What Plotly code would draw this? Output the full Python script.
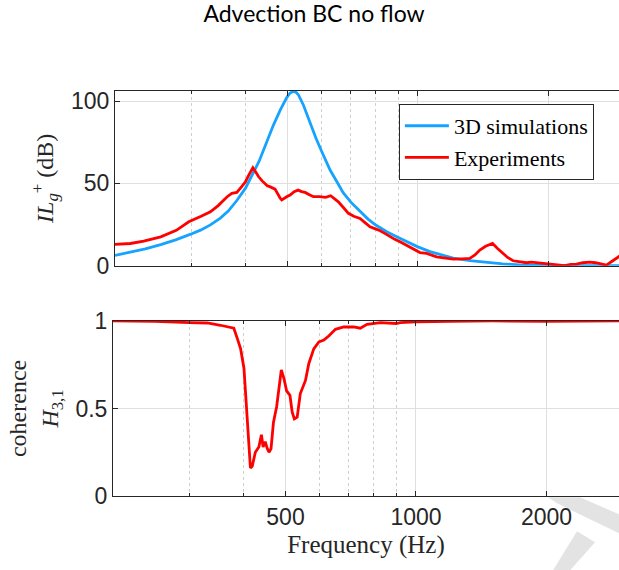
import numpy as np
import plotly.graph_objects as go

# ---------------- data ----------------
sim_freq = [200, 217, 235, 255, 276, 298, 315, 332, 350, 365, 382, 400, 415, 430, 448, 464,
            481, 498, 507, 516, 524, 530, 544, 564, 582, 600, 627, 650, 672, 700, 735, 767,
            799, 847, 893, 943, 996, 1066, 1206, 1318, 1440, 1569, 1717, 2046, 2500, 2909]
sim_il = [6.3, 8.1, 10.2, 12.8, 15.7, 19.0, 21.6, 24.8, 28.9, 33.2, 39.6, 47.1, 55.0, 63.5, 75.3, 85.4,
          94.5, 102.1, 104.9, 105.9, 105.2, 103.7, 97.6, 86.5, 77.2, 69.2, 58.1, 51.0, 44.4, 38.6, 32.8, 28.3,
          24.7, 20.6, 17.6, 14.5, 11.6, 8.6, 4.6, 3.1, 2.0, 1.1, 0.5, 0.06, 0.02, 0.0]

exp_freq = [200, 217, 233, 255, 277, 296, 316, 332, 346, 363, 372, 382, 392, 400, 407, 416,
            422, 429, 437, 444, 449, 455, 468, 481, 485, 499, 507, 518, 529, 539, 549, 563,
            574, 593, 612, 629, 642, 655, 672, 691, 711, 735, 756, 775, 795, 818, 840, 861,
            884, 909, 933, 958, 988, 1011, 1047, 1077, 1104, 1146, 1206, 1264, 1317, 1353,
            1389, 1432, 1486, 1526, 1572, 1610, 1658, 1719, 1779, 1827, 1877, 1926, 1976,
            2035, 2086, 2134, 2180, 2252, 2320, 2400, 2489, 2568, 2667, 2720, 2815, 2904, 2963]
exp_il = [13, 13.5, 15, 17.5, 21.5, 26.7, 30, 32.7, 36.5, 41.9, 44, 44.5, 48, 51, 55, 59.5,
          57, 54, 51.5, 50, 48.5, 48, 46.5, 41, 39.9, 42, 42.9, 45, 45.9, 45, 44.5, 43,
          41.9, 41.9, 41.5, 42.5, 40.5, 38.8, 35.5, 31.8, 30, 28.7, 26, 23.6, 22.5, 21.2, 19.5, 17.6,
          16, 14.5, 13, 11.5, 9.5, 8, 7.5, 6.5, 5.4, 4.8, 4, 4.2, 4.4, 6.5,
          9.5, 11.8, 13.5, 10.5, 7.5, 5, 3, 2.5, 1.8, 2.2, 1.8, 1.7, 1.4,
          0.8, 0.4, 0.3, 0.0, 0.8, 1.0, 1.8, 2.2, 1.8, 1.0, 0.4, 3, 5.4, 7]

coh_freq = [200, 250, 300, 330, 354, 370, 380, 387, 394, 401, 406, 411, 415, 419, 426, 434,
            440, 444, 449, 454, 458, 463, 469, 477, 483, 489, 496, 503, 512, 518, 524, 532,
            541, 556, 566, 581, 597, 613, 629, 652, 681, 718, 744, 771, 828, 900, 920, 1000,
            1200, 1500, 2000, 2500, 3000]
coh_val = [1.0, 0.998, 0.99, 0.988, 0.975, 0.966, 0.958, 0.90, 0.84, 0.73, 0.54, 0.31, 0.16, 0.17, 0.25, 0.28,
           0.35, 0.28, 0.31, 0.27, 0.25, 0.27, 0.42, 0.51, 0.61, 0.72, 0.67, 0.60, 0.575, 0.48, 0.44, 0.45,
           0.585, 0.66, 0.757, 0.84, 0.88, 0.89, 0.914, 0.952, 0.965, 0.966, 0.958, 0.98, 0.99, 0.985, 0.99, 0.995,
           0.998, 1.0, 0.997, 0.999, 1.0]

x_ticks = [500, 1000, 2000]
x_ticktext = ["500", "1000", "2000"]
x_minor = [300, 400, 600, 700, 800, 900]
il_ticks = [0, 50, 100]
coh_ticks = [0, 0.5, 1]
coh_ticktext = ["0", "0.5", "1"]

BLUE = "#16A3FF"
RED = "#FF0000"
AX = "#262626"
GRID = "#DFDFDF"
SERIF = "Liberation Serif"
SANS = "Liberation Sans"

fig = go.Figure()
fig.add_trace(go.Scatter(x=sim_freq, y=sim_il, mode="lines", name="3D simulations",
                         line=dict(color=BLUE, width=2.8), xaxis="x", yaxis="y"))
fig.add_trace(go.Scatter(x=exp_freq, y=exp_il, mode="lines", name="Experiments",
                         line=dict(color=RED, width=2.8), xaxis="x", yaxis="y"))
fig.add_trace(go.Scatter(x=coh_freq, y=coh_val, mode="lines", showlegend=False,
                         line=dict(color=RED, width=2.8), xaxis="x2", yaxis="y2"))

def xaxis_common(show_labels, xmax):
    return dict(type="log", range=[np.log10(200), np.log10(xmax)], tickmode="array",
                tickvals=x_ticks, ticktext=x_ticktext,
                showticklabels=show_labels, ticks="inside", ticklen=5, tickcolor=AX,
                showline=True, linecolor=AX, linewidth=1, mirror="ticks",
                showgrid=True, gridcolor=GRID, gridwidth=1, zeroline=False,
                tickfont=dict(family=SANS, size=23, color=AX),
                minor=dict(tickmode="array", tickvals=x_minor, ticks="inside", ticklen=3,
                           tickcolor=AX, showgrid=True, gridcolor="#CFCFCF", griddash="dot"))

def yaxis_common():
    return dict(ticks="inside", ticklen=5, tickcolor=AX, showline=True, linecolor=AX, linewidth=1,
                showgrid=True, gridcolor=GRID, zeroline=False,
                tickfont=dict(family=SANS, size=23, color=AX))

xa = xaxis_common(False, 2909)
xa.update(anchor="y", domain=[2 / 506, 1])
xa2 = xaxis_common(True, 2940)
xa2.update(anchor="y2", domain=[0, 1],
           title=dict(text="Frequency (Hz)", font=dict(family=SERIF, size=25, color=AX), standoff=6))
ya = yaxis_common()
ya.update(anchor="x", domain=[0.5686, 1], range=[0, 106.1], tickvals=il_ticks,
          title=dict(text="<i>IL</i><sub><i>g</i></sub><sup>+</sup> (dB)",
                     font=dict(family=SERIF, size=24, color=AX), standoff=10))
ya2 = yaxis_common()
ya2.update(anchor="x2", domain=[0, 0.4324], range=[0, 1], tickvals=coh_ticks, ticktext=coh_ticktext,
           title=dict(text="coherence<br><i>H</i><sub>3,1</sub>",
                      font=dict(family=SERIF, size=24, color=AX), standoff=10))

# light grey watermark fragment in the lower-right corner (figure pixel -> paper)
def px(X, Y):
    return (X - 113) / 506.0, (495.7 - Y) / 404.7

def path(points):
    s = ""
    for i, (X, Y) in enumerate(points):
        a, b = px(X, Y)
        s += ("M" if i == 0 else "L") + f"{a:.4f},{b:.4f} "
    return s + "Z"

shapes = [
    dict(type="path", xref="paper", yref="paper", layer="below", line=dict(width=0),
         fillcolor="#E3E3E3",
         path=path([(548, 497), (580, 497), (619, 514), (619, 533), (557, 503)])),
    dict(type="path", xref="paper", yref="paper", layer="below", line=dict(width=0),
         fillcolor="#E3E3E3",
         path=path([(577, 531), (595, 542), (570, 570), (553, 570)])),
]

fig.update_layout(
    width=619, height=570,
    margin=dict(l=113, r=0, t=91, b=74),
    paper_bgcolor="white", plot_bgcolor="white",
    title=dict(text="Advection BC no flow", x=314 / 619, xanchor="center", xref="container",
               y=1 - 13.5 / 570, yanchor="middle", yref="container",
               font=dict(family="Lato", size=23, color="black")),
    xaxis=xa, xaxis2=xa2, yaxis=ya, yaxis2=ya2,
    legend=dict(x=0.565, y=0.968, xanchor="left", yanchor="top", bgcolor="white",
                bordercolor=AX, borderwidth=1, font=dict(family=SERIF, size=22, color="black"),
                tracegroupgap=0, itemwidth=44),
    shapes=shapes,
    showlegend=True,
)

fig.write_html("out.html")
